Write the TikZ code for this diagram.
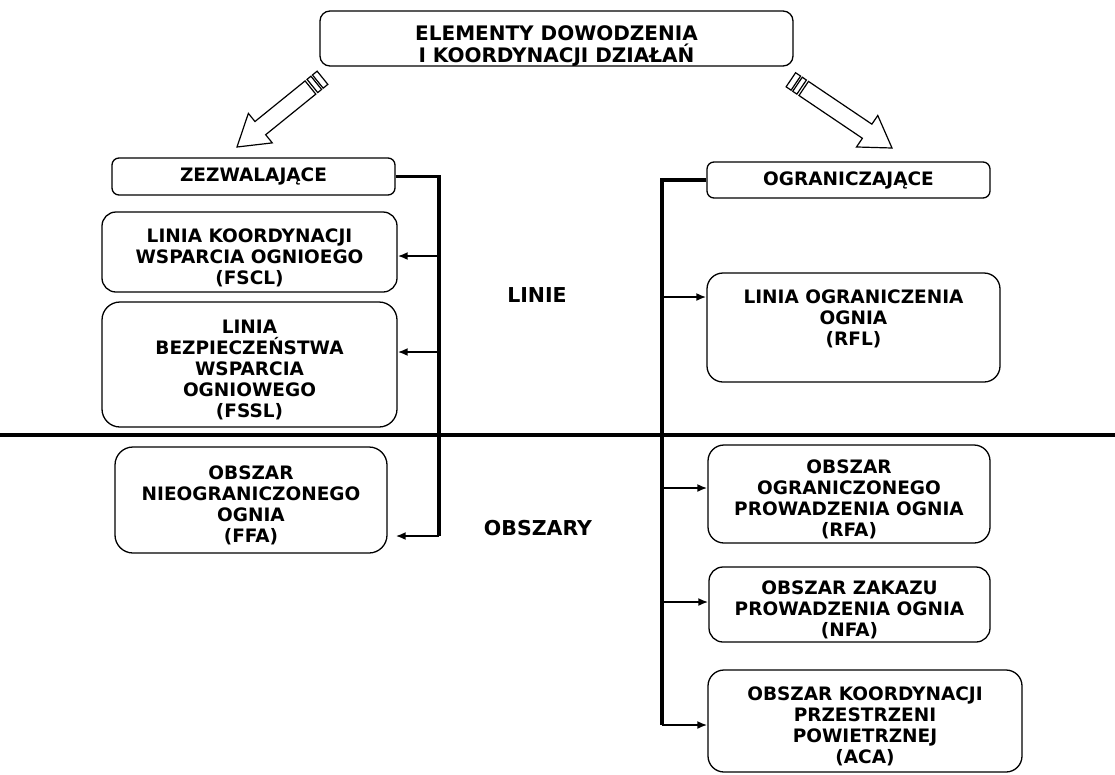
\documentclass[tikz,border=0pt]{standalone}
\usepackage{fontspec}
\setmainfont{DejaVu Sans}
\usetikzlibrary{arrows.meta}
\newcommand{\fatarrow}[4]{%
  \begin{scope}[shift={(#1,#2)},rotate=#3,line width=1.2pt]
  \draw[fill=white] (0,0) -- (-30,19) -- (-30,8.5) -- (-#4+15.5,8.5) -- (-#4+15.5,-8.5) -- (-30,-8.5) -- (-30,-19) -- cycle;
  \draw (-#4+13,8.5) rectangle (-#4+8,-8.5);
  \draw (-#4+6,8.5) rectangle (-#4,-8.5);
  \end{scope}}
\newcommand{\tallrow}[1]{\rule{0pt}{#1}}
\tikzset{
  box/.style={draw, line width=1.3pt, fill=white, rounded corners=14pt, align=center, inner sep=0pt,
    font=\fontsize{18.5}{21}\selectfont\bfseries},
  hdr/.style={box, rounded corners=7pt},
  tag/.style={font=\fontsize{20.5}{24}\selectfont\bfseries},
  bus/.style={line width=3.8pt},
  feed/.style={line width=2.8pt, -{Latex[length=10pt,width=8pt]}},
}

\begin{document}
\begin{tikzpicture}[x=1pt,y=-1pt]
\useasboundingbox[fill=white] (0,0) rectangle (1115,774);

\node[box, rounded corners=10pt, font=\fontsize{20}{22}\selectfont\bfseries, minimum width=473pt, minimum height=55pt]
  (elem) at (556.5,38.5) {\tallrow{26pt}ELEMENTY DOWODZENIA\\\smash{I KOORDYNACJI DZIAŁAŃ}};
\fatarrow{237}{147}{219}{110}
\fatarrow{892}{148}{-34}{122}

% zezwalajace
\node[hdr, minimum width=283pt, minimum height=37pt] (zez) at (253.5,176.5) {ZEZWALAJĄCE};
\node[box, minimum width=295pt, minimum height=80pt] (fscl) at (249.5,252) {\tallrow{25pt}LINIA KOORDYNACJI\\WSPARCIA OGNIOEGO\\(FSCL)};
\node[box, rounded corners=18pt, minimum width=295pt, minimum height=125pt] (fssl) at (249.5,364.5) {\tallrow{25pt}LINIA\\BEZPIECZEŃSTWA\\WSPARCIA\\OGNIOWEGO\\(FSSL)};
\node[box, rounded corners=18pt, minimum width=272pt, minimum height=106pt] (ffa) at (251,500) {\tallrow{25pt}OBSZAR\\NIEOGRANICZONEGO\\OGNIA\\(FFA)};

% ograniczajace
\node[hdr, minimum width=283pt, minimum height=36pt] (ogr) at (848.5,180) {OGRANICZAJĄCE};
\node[box, rounded corners=16pt, minimum width=293pt, minimum height=109pt] (rfl) at (853.5,327.5) {\tallrow{25pt}LINIA OGRANICZENIA\\OGNIA\\(RFL)\\[10.5pt]\mbox{}};
\node[box, rounded corners=16pt, minimum width=282pt, minimum height=98pt] (rfa) at (849,494) {\tallrow{25pt}OBSZAR\\OGRANICZONEGO\\PROWADZENIA OGNIA\\(RFA)};
\node[box, minimum width=281pt, minimum height=75pt] (nfa) at (849.5,604.5) {\tallrow{25pt}OBSZAR ZAKAZU\\PROWADZENIA OGNIA\\(NFA)};
\node[box, rounded corners=16pt, minimum width=314pt, minimum height=102pt] (aca) at (865,721) {\tallrow{25pt}OBSZAR KOORDYNACJI\\PRZESTRZENI\\POWIETRZNEJ\\(ACA)};

\node[tag] (linie) at (537,295) {LINIE};
\node[tag] (obszary) at (538,528) {OBSZARY};

\coordinate (sepL) at (0,435);
\coordinate (sepR) at (1115,435);
\draw[line width=4.5pt] (sepL) -- (sepR);

\coordinate (lA) at (439,256);
\coordinate (lB) at (439,352);
\coordinate (lC) at (439,536);
\draw[bus] (zez.east) -| (lC);
\draw[feed] (lA) -- (lA -| fscl.east);
\draw[feed] (lB) -- (lB -| fssl.east);
\draw[feed, shorten >=8pt] (lC) -- (lC -| ffa.east);

\coordinate (rA) at (662,297);
\coordinate (rB) at (662,488);
\coordinate (rC) at (662,602);
\coordinate (rD) at (662,725);
\draw[bus] (ogr.west) -| (rD);
\draw[feed] (rA) -- (rA -| rfl.west);
\draw[feed] (rB) -- (rB -| rfa.west);
\draw[feed] (rC) -- (rC -| nfa.west);
\draw[feed] (rD) -- (rD -| aca.west);
\end{tikzpicture}
\end{document}
